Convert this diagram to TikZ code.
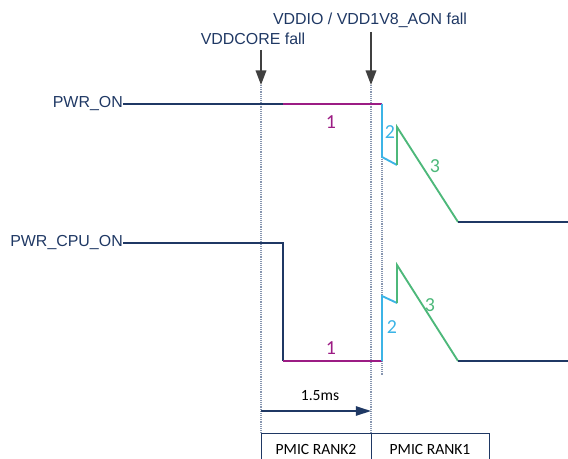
\documentclass[tikz,border=0pt]{standalone}
\usepackage{fontspec}
\setmainfont{Liberation Sans}
\newfontfamily\calibri{Carlito}
\usepackage{xcolor}
\usepackage{tikz}
\usetikzlibrary{arrows.meta, positioning}
\definecolor{navy}{HTML}{1F3864}
\definecolor{seqmag}{HTML}{9C1C84}
\definecolor{seqblue}{HTML}{3CB4E6}
\definecolor{seqgreen}{HTML}{4DB87A}
\definecolor{evgray}{HTML}{404040}
\definecolor{guide}{HTML}{8796B0}

\begin{document}
\begin{tikzpicture}[
  x=0.03cm, y=-0.03cm,
  lbl/.style={font=\fontsize{13.6}{16}\selectfont, text=navy, inner sep=0pt},
  step num/.style={font=\calibri\fontsize{17}{19}\selectfont, inner sep=0pt},
  box txt/.style={font=\calibri\fontsize{13.3}{15}\selectfont, text=black, inner sep=0pt},
  wave/.style={line width=1.6pt, navy},
  fallarr/.style={-{Triangle[length=12.5pt, width=9pt]}, line width=1.6pt, evgray},
  guideline/.style={guide, line width=0.9pt, dash pattern=on 0.8pt off 0.8pt},
  timearr/.style={-{Triangle[length=13pt, width=8pt]}, line width=1.6pt, navy}
]
  \useasboundingbox (0,0) rectangle (568,459);

  % Event labels and arrows
  \node[lbl] (ioev) at (370,20) {VDDIO / VDD1V8\_AON fall};
  \node[lbl] (coreev) at (253,39) {VDDCORE fall};
  \coordinate (coretop) at (261,50);
  \coordinate (coretip) at (261,85);
  \coordinate (iotop) at (371,32);
  \coordinate (iotip) at (371,85);
  \draw[fallarr] (coretop) -- (coretip);
  \draw[fallarr] (iotop) -- (iotip);

  % Guide lines
  \coordinate (corebot) at (261,433);
  \coordinate (iobot) at (371,433);
  \draw[guideline] (coretip) -- (corebot);
  \draw[guideline] (iotip) -- (iobot);

  % PWR_ON waveform
  \node[lbl, anchor=east] (pwron) at (123,104) {PWR\_ON};
  \coordinate (a1) at (283,104);
  \coordinate (a2) at (382,104);
  \coordinate (a3) at (382,157);
  \coordinate (a4) at (397,165);
  \coordinate (a5) at (397,127);
  \coordinate (a6) at (458,222);
  \coordinate (a7) at (568,222);
  \coordinate (a8) at (382,375);
  \draw[guideline] (a3) -- (a8);
  \draw[wave] (pwron.east) -- (a1);
  \draw[wave, seqmag] (a1) -- (a2);
  \draw[wave, seqblue] (a2) -- (a3) -- (a4);
  \draw[wave, seqgreen] (a4) -- (a5) -- (a6);
  \draw[wave] (a6) -- (a7);
  \node[step num, text=seqmag] at (331,122) {1};
  \node[step num, text=seqblue] at (390,132) {2};
  \node[step num, text=seqgreen] at (435,166) {3};

  % PWR_CPU_ON waveform
  \node[lbl, anchor=east] (pwrcpu) at (123,243) {PWR\_CPU\_ON};
  \coordinate (b1) at (283,243);
  \coordinate (b2) at (283,361);
  \coordinate (b3) at (382,361);
  \coordinate (b4) at (382,296);
  \coordinate (b5) at (397,303);
  \coordinate (b6) at (397,265);
  \coordinate (b7) at (458,361);
  \coordinate (b8) at (568,361);
  \draw[wave] (pwrcpu.east) -- (b1) -- (b2);
  \draw[wave, seqmag] (b2) -- (b3);
  \draw[wave, seqblue] (b3) -- (b4) -- (b5);
  \draw[wave, seqgreen] (b5) -- (b6) -- (b7);
  \draw[wave] (b7) -- (b8);
  \node[step num, text=seqmag] at (331,348) {1};
  \node[step num, text=seqblue] at (392,327) {2};
  \node[step num, text=seqgreen] at (430,305) {3};

  % Delay
  \coordinate (dstart) at (261,411);
  \coordinate (dend) at (371,411);
  \draw[timearr] (dstart) -- (dend);
  \node[box txt] (delay) at (320,396) {1.5ms};

  % PMIC ranks
  \coordinate (r0) at (261,459);
  \coordinate (r1) at (371,459);
  \coordinate (r2) at (489,459);
  \coordinate (r2top) at (489,433);
  \draw[navy, line width=0.8pt] (r0) -- (corebot) -- (r2top) -- (r2);
  \draw[navy, line width=0.8pt] (iobot) -- (r1);
  \node[box txt] (rank2) at (316,449) {PMIC RANK2};
  \node[box txt] (rank1) at (430,449) {PMIC RANK1};
\end{tikzpicture}
\end{document}
